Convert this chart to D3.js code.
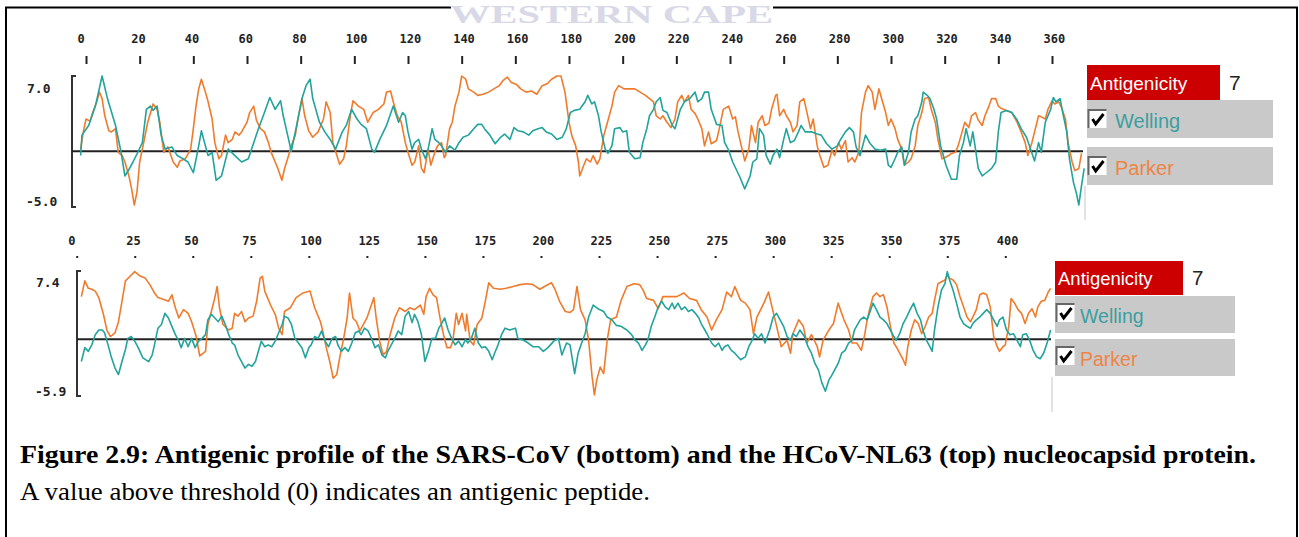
<!DOCTYPE html>
<html>
<head>
<meta charset="utf-8">
<script src="https://cdn.jsdelivr.net/npm/d3@7"></script>
<style>
  body { margin: 0; background: #fff; }
  .tick text { font-family: "DejaVu Sans Mono", monospace; font-size: 12px; font-weight: bold; fill: #222; }
</style>
</head>
<body>
<svg id="fig" width="1299" height="537"></svg>
<script>

// ---- data: [residue, score] ----
// HCoV-NL63 nucleocapsid (top panel)
var nl63Welling = [
	[-2,-0.4],[-1.5,1.5],[1,2.4],[3.5,4.2],[6,7.0],[8,4.9],[11,2.4],[13,0],[14.5,-2.3],[16,-1.7],[17.5,-1.0],[19.5,0],
	[21,0.8],[22.5,3.9],[24,4.2],[25,3.8],[26.5,4.2],[28,1.5],[29.5,0.2],[32,0.4],[34,-0.4],[35.5,-0.6],[38,-1.0],[40,-2.0],
	[42,0.5],[43,1.9],[44.5,0.5],[45.5,-0.4],[47,-0.1],[48.5,-2.7],[50.5,-2.3],[53,0.2],[55.5,-0.4],[58,-1.0],[60.5,-0.7],
	[62.5,0.8],[64,1.9],[66.5,3.6],[68.5,5.0],[70.5,3.9],[72.5,4.7],[73.5,3.3],[75.5,1.1],[76.5,0],[78.5,2.4],[80.5,4.9],
	[82,6.1],[83.5,6.7],[84.5,4.9],[87,2.7],[89,1.8],[91,1.1],[93,0.2],[95.5,1.8],[97,2.4],[99,3.9],[101,3.0],[102.5,2.5],
	[104.5,2.1],[106.5,0.2],[107.5,-0.1],[109.5,1.1],[112,2.4],[114.5,4.2],[116.5,2.7],[118,3.6],
	[119,3.3],[120,1.8],[121.5,0.2],[122.5,0.8],[124,1.1],[125,0.2],[126.5,-0.7],[127.5,0.2],[129,2.1],[130,1.1],[131.5,0.8],
	[132.5,0.5],[134,-0.1],[135.5,0.5],[137.5,0.1],[139,0.8],[140.5,1.3],[142.5,1.5],[144.5,2.1],[146,2.5],[147.5,2.5],
	[148.5,2.1],[150.5,1.5],[152.5,0.7],[154.5,1.3],[156,1.6],[158,1.1],[159.5,2.2],[161,1.9],[163,1.8],[165,1.5],[166.5,1.9],
	[168.5,2.1],[170,2.2],[171.5,1.8],[173.5,1.6],[175.5,1.1],[177.5,1.3],[179,2.1],[180.5,3.6],[182,3.8],[184,3.9],[186,4.6],
	[187,5.2],[188.5,4.4],[189.5,4.6],[191,3.3],[192,1.8],[193.5,0.2],[194.5,-0.2],[196,0.5],[197,2.1],[199,2.2],[200,1.8],
	[201.5,1.9],[202.5,-0.1],[204.5,-0.7],[206.5,-0.6],[207.5,0.8],[209,2.1],[210,3.3],[211.5,3.9],[212.5,4.6],[214,5.0],
	[215,3.8],[216.5,3.6],[218.5,2.4],[219.5,2.1],[221.5,3.9],[223,4.6],[225,4.9],[227,5.5],[228,4.6],[229.5,4.9],[230.5,5.5],
	[232,5.5],[233,3.9],[235,2.5],[237,2.4],[238,0.8],[239.5,0.1],[241,-1.0],
	[243.5,-2.3],[245.5,-3.5],[247.5,-2.3],[248.5,-1.0],[250,-0.7],[251,2.1],[252.5,1.5],[253.5,-0.4],[255,-1.2],[256,-0.4],
	[257.5,0.2],[258.5,-0.6],[260,1.1],[261,2.1],[262.5,0.8],[264,1.0],[265.5,1.8],[266.5,2.4],[268,1.8],[269,1.8],[270.5,1.8],
	[272.5,1.6],[274,1.5],[276,0.7],[278,0.2],[280,0.5],[281,1.0],[283,1.8],[284.5,2.2],[286,1.8],[287,0.4],[288.5,-0.4],
	[290.5,1.5],[292,0.8],[294,0.2],[296,0.1],[298,0.2],[299,-1.3],[300,-1.5],[301.5,-0.7],[302.5,-0.1],[304,0.4],[305,-1.3],
	[306.5,-0.1],[307.5,1.8],[309,3.0],[310,3.3],[311.5,4.6],[312,5.5],[313.5,5.2],[314.5,4.9],[316,3.9],[317,3.0],[318.5,0.5],
	[319.5,-0.4],[320.5,-1.3],[322.5,-2.6],[324.5,-2.6],[325.5,-0.4],[327,0.8],[328,2.1],[329.5,0.5],[330.5,1.8],[331.5,0.2],
	[332.5,-1.6],[334,-2.3],[335.5,-2.0],[337.5,-1.6],[339,-1.0],[340,1.8],[341,3.6],[343,3.8],[345,3.6],[347,2.9],[348.5,2.1],
	[350.5,1.3],[352,0.2],[353.5,-0.9],[355,0.8],[356,-0.1],[357.5,2.7],[359.5,3.9],[360.5,5.0],[361.5,4.6],[363,4.9],[364,3.6],
	[365.5,1.8],[366.5,-0.7],[368,-2.9],[369,-3.8],[370,-5.0],[371,-3.2],[372,-1.6]
];
var nl63Parker = [
	[-2,0.2],[-1,1.8],[0,3.0],[1.5,2.8],[2.5,3.6],[4,4.6],[5,5.5],[6,4.9],[7,3.3],[8.5,1.9],[9.5,1.8],[11,2.1],[12,-0.1],
	[13.5,-0.4],[14.5,-1.0],[16,-2.3],[17,-3.5],[18,-5.0],[19,-3.8],[20,-1.0],[21.5,0.8],[23,2.7],[25,4.4],[26.5,3.9],[27.5,2.7],
	[29,-0.1],[30.5,0.4],[32.5,-1.0],[34,-1.5],[35,-0.9],[37,-0.7],[39,0.2],[40,2.1],[41,4.2],[42,5.8],[43,6.7],[44.5,5.5],
	[45.5,4.6],[47,3.0],[48,0.8],[49.5,-0.7],[50.5,-0.4],[52,1.5],[53,0.8],[54.5,1.1],[55.5,1.8],[57,1.5],[58,1.8],[60,2.7],
	[61,3.6],[62.5,4.2],[63.5,2.9],[65,2.1],[66.5,1.8],[68,0.8],[69,-0.1],[70.5,-1.0],[71.5,-1.6],[73,-2.7],[74,-1.6],[75.5,-0.4],
	[76.5,0.5],[78,1.5],[79,3.0],[80.5,4.9],[81.5,3.3],[83,1.9],[84.5,1.3],[86.5,1.8],[88.5,3.0],[89.5,4.6],[91,3.6],[92,0.8],
	[93.5,-0.4],[94.5,-1.2],[96,-0.7],[97,0.5],[98.5,3.3],[99.5,4.7],[101.5,4.2],[103.5,3.9],[105,2.7],[107,3.6],[109,3.9],
	[111,4.4],[112,5.5],[113.5,5.6],[114.5,4.6],[116,3.3],[117.5,2.7],
	[119,0.8],[120,-0.1],[121.5,-1.3],[122.5,-1.0],[124,0.5],[125,-1.6],[126,-2.0],[127.5,0.2],[128.5,-1.3],[130,-0.1],[131,0.5],
	[132.5,0.8],[133.5,-0.6],[134,-0.4],[135.5,2.1],[136.5,2.7],[137.5,4.2],[139,5.5],[140,7.0],[141.5,6.7],[142.5,5.8],
	[144.5,5.5],[146,5.2],[148,5.3],[150,5.5],[152,5.8],[154,6.1],[155.5,6.6],[157,6.9],[158.5,6.4],[160.5,6.2],[162,5.8],
	[164,5.5],[166,5.6],[168,5.3],[170,6.1],[172,6.3],[173.5,6.7],[175.5,7.0],[177,7.0],[178.5,5.5],[180,2.7],[181,1.5],
	[182.5,0.5],[183.5,-1.0],[184,-2.3],[185.5,-1.3],[186.5,-0.7],[188,-1.0],[189,-0.4],[190.5,-1.2],[191.5,-0.7],[193,1.5],
	[194,2.4],[196,4.2],[197,5.5],[198.5,6.1],[200.5,5.8],[202,5.8],[204.5,5.8],[206.5,5.5],[208.5,5.2],[210,4.9],[211.5,4.6],
	[212.5,3.3],[214,3.0],[215,3.3],[216.5,2.7],[218,2.2],[219.5,3.0],[220.5,4.6],[222,5.2],[223,4.6],[224.5,5.2],[225.5,3.9],
	[227,3.5],[228,3.0],[229.5,2.1],[230.5,0.5],[232,1.8],[233,0.7],[235,1.0],[236,2.1],[237.5,3.9],[239.5,4.2],[241,3.0],
	[242,3.2],[243,1.8],[244.5,0.2],[245.5,-0.9],[247,0.2],[248,2.4],[249.5,0.8],[250.5,2.7],[252,3.3],[253,2.4],[254.5,2.6],
	[255.5,3.9],[257,5.2],[257.5,5.3],[258.5,3.3],[260,3.9],[261,3.3],[262.5,2.7],[263.5,1.8],[265,2.4],[266,4.6],[267.5,4.9],
	[268.5,3.8],[270,2.1],[271,3.0],[272.5,0.5],[273.5,-0.4],[275,-1.5],[276.5,-1.3],[278,0.1],[279,-0.4],[280.5,0.8],
	[281.5,0.2],[283,1.0],[284,-1.0],[285.5,-0.6],[286.5,-1.0],[288,-0.1],[289,3.6],[290.5,5.5],[291.5,6.1],[293,5.5],[294,3.9],
	[295.5,5.8],[296.5,4.9],[298,3.6],[299,2.4],[300,3.0],[301.5,2.1],[302.5,1.1],[304,0.2],[305,-1.3],[306.5,-1.0],[307.5,-0.7],
	[309,0.5],[310,2.4],[311.5,3.6],[312.5,4.9],[314,5.0],[315,3.9],[316.5,2.7],[317.5,1.1],[319,-0.7],[320,-0.6],[321.5,-0.4],
	[322.5,-0.2],[324,-0.1],[325,0.5],[326.5,1.8],[327.5,2.7],[329,2.2],[330,3.3],[331.5,3.6],[332.5,2.9],[334,2.4],[335,3.3],
	[336.5,4.2],[337.5,4.9],[339,4.9],[340,4.2],[341,4.0],[343,3.8],[345,3.6],[347,2.7],[348.5,1.8],[350,0.8],[351,-0.4],
	[352.5,0.8],[353.5,1.8],[355,3.3],[356,3.2],[357.5,3.0],[358.5,3.9],[360,4.7],[361,4.4],[362.5,4.6],[363.5,4.1],[365,3.0],
	[366,0.8],[367.5,-1.0],[368.5,-1.8],[370,-1.6],[371,-0.2]
];

// SARS-CoV nucleocapsid (bottom panel)
var sarsWelling = [
	[2,-2.4],[3.5,-0.9],[5,-1.3],[6.5,-0.6],[8,0.5],[9.5,1.0],[11,1.0],[12,0.7],[13.5,-0.6],[15,-2.0],[16.5,-3.1],[18,-3.8],
	[19.5,-2.4],[21,-1.1],[22,0.1],[23.5,0.3],[25,-0.2],[26.5,-0.9],[28.5,-2.0],[31,-2.4],[32.5,-1.7],[33.5,-0.6],[35,1.2],
	[36.5,1.6],[38,2.8],[39.5,2.3],[41,1.4],[42.5,0.5],[44,-0.2],[45,-0.9],[46.5,0.1],[48,-0.8],[49.5,0.1],[51,-0.9],[52.5,-0.2],
	[54,0.1],[55.5,0.5],[56.5,2.1],[58,2.7],[59.5,2.3],[61,1.9],[62.5,2.5],[64,1.6],[65.5,0.5],[67,-0.4],[68,-0.6],[69.5,-1.7],
	[71,-2.4],[72.5,-3.1],[74,-2.7],[75.5,-2.9],[77,-2.4],[78,-1.5],[79.5,-0.2],[81,-0.8],[82.5,-0.6],[84,-0.8],[85.5,-0.2],
	[87,0.7],[88.5,1.6],[89.5,2.5],[91,2.3],[92.5,1.6],[94,0.1],[95.5,-0.4],[97,-0.9],[98.5,-2.0],[100,-0.9],[101,-0.6],
	[102.5,0.3],[104,0.1],[105.5,0.9],[107,-0.2],[108.5,-0.8],[110,0.1],[111.5,0.3],[112.5,-0.6],[114,-1.3],[115.5,-0.9],
	[117,-1.3],[118.5,-0.4],[120,0.7],[121.5,0.9],[122.5,0.5],[124,1.2],[125.5,0.9],[127,0.1],[128.5,-0.9],[130,-0.6],
	[131.5,-1.7],[133,-2.0],[134,-1.3],[135.5,-0.6],[137,0.1],[138.5,0.9],[140,0.5],[141.5,2.5],[143,3.0],[144.5,1.8],
	[145.5,2.7],[147,1.9],[148.5,0.5],[150,-2.4],[151.5,-1.3],[153,0.1],[154.5,0.1],[156,1.2],[157,1.6],[158.5,2.3],[160,1.0],
	[161.5,0.1],[163,-0.6],[164.5,-0.2],[166,-0.8],[167.5,0.0],[168.5,-0.4],[170,0.1],[171.5,1.2],[173,-0.4],[174.5,-0.9],
	[176,-0.8],[177.5,-1.3],[179,-2.2],[180,-1.5],[181.5,-0.6],[183,0.5],[184.5,1.2],[186.5,1.0],[189,1.2],[190,0.1],
	[192.5,-0.1],[194.5,-0.4],[196.5,-0.8],[199,-0.8],[201,-1.3],[203,-0.9],[205.5,-0.2],[207.5,0.1],[209,-1.7],[211,-0.4],
	[212.5,-0.6],[214.5,-3.7],[216,-1.5],[217.5,-0.4],[219,0.6],[220.5,2.4],[222.5,3.7],[224.5,3.3],[227,3.0],[228.5,2.4],
	[230.5,2.1],[232.5,1.5],[234.5,1.4],[237,1.0],[239,0.5],[240.5,-0.1],[242,-0.4],[243.5,-1.2],[245,-0.6],[246,-0.1],
	[247.5,1.4],[249,2.4],[250.5,3.5],[252,4.1],[253.5,3.5],[255,3.2],[256.5,3.9],[257.5,3.3],[259,3.9],[260.5,3.2],[262,3.5],
	[263.5,3.0],[265,3.2],[266.5,2.8],[268,2.3],[269,1.7],[271.5,0.6],[273.5,-0.4],[275,-0.8],[276.5,-0.4],[278,-1.2],
	[279,-0.8],[280.5,-0.6],[282,-1.2],[283.5,-1.5],[286,-2.2],[288,-1.9],[289.5,-0.8],[291,-0.1],[292,0.6],[293.5,0.1],
	[295,0.6],[296.5,-0.4],[298.5,1.0],[300,2.4],[301.5,2.8],[303,2.1],[304.5,1.4],[306,0.3],[307.5,-0.1],[308.5,0.6],[310,0.3],
	[311.5,1.0],[313.5,0.3],[315,-0.8],[316.5,-1.5],[318,-2.6],[319.5,-3.3],[321,-4.7],[322.5,-5.6],[324,-4.4],[325,-4.0],
	[326.5,-3.3],[328,-2.6],[329.5,-1.5],[331,-1.2],[332.5,-0.4],[334,-0.1],[335,1.0],[337.5,2.1],
	[339,2.4],[340.5,2.1],[341.5,2.8],[343,3.9],[344.5,3.2],[346,2.4],[347.5,2.1],[349,1.7],[350.5,1.0],[352,0.3],[353,-0.1],
	[354.5,0.6],[356,1.7],[357.5,2.4],[359,3.2],[360.5,3.9],[362,2.8],[363.5,2.1],[364.5,1.0],[366,-0.1],[367.5,-0.8],
	[368.5,-1.3],[369.5,1.0],[371,3.5],[372.5,5.3],[374,6.0],[375,7.3],[376,6.4],[377.5,5.3],[379,3.9],[380.5,2.4],[382,1.7],
	[383.5,1.4],[385,1.2],[386,1.7],[387.5,2.1],[389,2.4],[390.5,2.8],[392,3.2],[393.5,2.8],[395,2.1],[396.5,1.4],[397.5,2.1],
	[399,2.4],[400.5,1.0],[402,0.5],[403.5,0.6],[405,-0.1],[406.5,-0.8],[407.5,0.5],[409,0.6],[410.5,-0.1],[412,-1.2],
	[413.5,-1.9],[415,-2.1],[416.5,-1.5],[418,-0.4],[419.5,1.0]
];
var sarsParker = [
	[2,4.6],[3.5,6.3],[5,5.5],[6.5,5.4],[8,5.2],[9.5,4.5],[11.5,2.7],[13,1.0],[14.5,0.3],[16.5,0.7],[18,1.9],[19.5,4.1],
	[21,6.3],[23,6.8],[25,7.3],[27.5,6.8],[29.5,6.6],[31.5,5.9],[33.5,5.0],[35,4.5],[37.5,4.3],[39.5,4.1],[41,4.8],[42.5,3.4],
	[44,2.3],[46,3.2],[48,2.8],[49.5,1.9],[51.5,0.3],[53,-1.8],[55.5,-1.3],[56.5,1.6],[58,3.0],[59.5,4.5],[60.5,5.7],[61.5,3.4],
	[63,1.6],[65.5,1.0],[67,1.2],[68,2.8],[69.5,2.5],[71,3.0],[72.5,1.9],[74,2.3],[76,2.5],[77.5,4.1],[79,6.6],[80,6.8],
	[81,5.2],[83.5,3.7],[85.5,2.7],[87,1.2],[88.5,0.5],[89.5,3.0],[92,3.4],[94.5,4.5],[97.5,5.0],[100.5,5.2],[102.5,3.4],
	[105,1.9],[106,0.9],[107.5,-0.9],[109,-2.4],[110.5,-4.2],[112,-3.8],[113.5,-1.7],[115,0.1],[116.5,2.3],[117.5,5.0],
	[119,2.3],[120.5,1.9],[122,0.9],[123.5,1.6],[125,2.3],[126.5,3.4],[128,4.5],[129,2.3],[130.5,-0.2],[132,-1.7],[133.5,-1.3],
	[135,0.5],[137,2.3],[139,3.4],[141.5,3.0],[143.5,3.4],[145.5,3.2],[148,3.7],[149.5,2.7],[150.5,4.6],[152,5.5],[153.5,4.8],
	[155,4.5],[156.5,2.3],[158,0.5],[159.5,-0.9],[161,-0.9],[162,-0.2],[163.5,2.8],[164.5,1.6],[166,2.8],[167.5,0.9],[168,2.7],
	[169.5,-0.2],[171,-0.6],[172.5,1.6],[174.5,2.3],[176,4.1],[177.5,6.1],[179.5,5.5],[182.5,5.4],[185,5.5],[188,5.7],
	[191,5.9],[194,6.0],[196.5,5.9],[199.5,5.4],[201.5,5.7],[204.5,6.1],[206,5.4],[208,4.1],[210.5,3.0],[212.5,2.9],
	[214,3.2],[215.5,5.7],[217,3.2],[219,2.1],[220.5,-0.1],[222,-4.0],[223,-6.0],[224,-4.4],[225.5,-3.0],[227,-3.7],
	[228.5,-0.1],[230,2.1],[232.5,2.4],[234.5,4.2],[237,5.7],[240,6.0],[242.5,5.9],[244,5.3],[245.5,4.4],[248.5,4.2],
	[250.5,3.3],[252.5,4.6],[255.5,4.6],[258.5,4.6],[261.5,5.0],[264,4.4],[267,4.2],[269,3.2],[271.5,2.4],[273.5,1.0],
	[275.5,2.1],[278,3.2],[280,5.1],[282,4.6],[283.5,5.7],[286,4.2],[288,3.9],[290,3.2],[291.5,0.6],[293,2.4],[296,3.9],
	[298,5.1],[299.5,3.5],[301.5,1.4],[303.5,-0.8],[306,-0.1],[307.5,-1.5],[308.5,0.6],[311,2.1],[313,1.4],[314.5,-0.4],
	[316.5,0.5],[319,-0.8],[320,-1.9],[321.5,-0.1],[324,1.0],[326,1.7],[328,3.9],[330.5,2.1],[332.5,1.0],[334,-0.4],
	[336,-0.4],[338,-1.2],[339.5,0.6],[340.5,2.1],[341.5,3.2],[343,4.6],[344.5,5.0],[346,4.6],[347.5,4.8],[349,3.5],
	[350.5,1.4],[352,-0.4],[353,-0.8],[354.5,-1.5],[356,-2.2],[357,-2.8],[358,-0.8],[359.5,1.0],[361,2.1],[362.5,1.7],
	[364,0.6],[365.5,1.4],[367,2.4],[368.5,2.8],[369.5,4.2],[371,6.0],[372.5,6.2],[374,6.4],[375,6.9],[376,6.6],[377.5,6.4],
	[379,5.9],[380.5,4.6],[382,3.5],[383.5,2.4],[385,1.9],[386,2.4],[387.5,3.2],[389,4.8],[390.5,5.0],[392,4.8],[393.5,3.5],
	[395,0.3],[396.5,-0.8],[397.5,-1.3],[399,-0.8],[400,-0.6],[400.5,0.1],[401.5,1.4],[402.5,4.4],[404,3.9],[405.5,3.2],
	[407,2.8],[408.5,1.7],[410,2.8],[411.5,3.3],[413,2.4],[414,3.5],[415.5,4.1],[417,4.2],[418.5,5.1],[419.5,5.5]
];

// axes / labels
var topTicks = [0,20,40,60,80,100,120,140,160,180,200,220,240,260,280,300,320,340,360];
var bottomTicks = [0,25,50,75,100,125,150,175,200,225,250,275,300,325,350,375,400];
var topYDomain = [-5, 7], topYLabels = ["7.0", "-5.0"];
var bottomYDomain = [-5.9, 7.4], bottomYLabels = ["7.4", "-5.9"];
var legendNames = ["Welling", "Parker"];
var legendTitle = "Antigenicity", windowSize = "7";
var captionBold = "Figure 2.9: Antigenic profile of the SARS-CoV (bottom) and the HCoV-NL63 (top) nucleocapsid protein.";
var captionText = "A value above threshold (0) indicates an antigenic peptide.";

var colors = {Welling: "#22a39c", Parker: "#f07b2c"};
var textColors = {Welling: "#3c9f9f", Parker: "#ef8445"};

var svg = d3.select("#fig");

// page frame
svg.append("rect").attr("x", 6).attr("y", 7.5).attr("width", 1291).attr("height", 545)
	.attr("fill", "none").attr("stroke", "#000").attr("stroke-width", 2);

// watermark over the frame
svg.append("rect").attr("x", 451).attr("y", 0).attr("width", 322).attr("height", 14).attr("fill", "#fff");
svg.append("text").attr("x", 450).attr("y", 23)
	.attr("textLength", 323).attr("lengthAdjust", "spacingAndGlyphs")
	.style("font-family", "'Liberation Serif', serif").style("font-weight", "bold")
	.style("font-size", "25px").style("fill", "#d8d8e6")
	.text("WESTERN CAPE");

function drawPanel(p){
	var x = d3.scaleLinear().domain(p.xDomain).range([p.x0, p.x1]);
	var y = d3.scaleLinear().domain(p.yDomain).range([p.yBottom, p.yTop]);
	var g = svg.append("g");

	// residue axis on top
	var ax = g.append("g").attr("transform", "translate(0," + p.tickY + ")")
		.call(d3.axisTop(x).tickValues(p.ticks).tickSize(p.tickSize).tickPadding(p.tickPad));
	ax.select(".domain").remove();
	ax.selectAll(".tick line").attr("stroke", "#222").attr("stroke-width", p.tickW);
	ax.selectAll(".tick text").attr("text-anchor", "start").attr("x", -9);

	// bracket style y axis
	g.append("path")
		.attr("d", "M" + (p.axisX + 4) + "," + p.bracketTop + "H" + p.axisX + "V" + p.bracketBottom + "H" + (p.axisX + 4))
		.attr("fill", "none").attr("stroke", "#333").attr("stroke-width", 2);
	g.selectAll(".ylab").data(p.yLabels).enter().append("text")
		.attr("class", "ylab")
		.attr("x", function(d, i){ return p.yLabelX[i]; })
		.attr("y", function(d, i){ return p.yLabelY[i]; })
		.style("font-family", "'DejaVu Sans Mono', monospace").style("font-size", "13px")
		.style("font-weight", "bold").style("fill", "#222")
		.text(function(d){ return d; });

	// threshold line
	g.append("line").attr("x1", p.axisX).attr("x2", p.zeroEnd).attr("y1", y(0)).attr("y2", y(0))
		.attr("stroke", "#222").attr("stroke-width", 2);

	var line = d3.line().x(function(d){ return x(d[0]); }).y(function(d){ return y(d[1]); });
	// Parker drawn first, Welling on top of it
	[["Parker", p.parker], ["Welling", p.welling]].forEach(function(s){
		g.append("path").datum(s[1]).attr("d", line)
			.attr("fill", "none").attr("stroke", colors[s[0]])
			.attr("stroke-width", 1.6).attr("stroke-linejoin", "round");
	});

	// faint panel separator
	g.append("line").attr("x1", p.sepX).attr("x2", p.sepX).attr("y1", p.sepTop).attr("y2", p.sepBottom)
		.attr("stroke", "#e2e2e2").attr("stroke-width", 2);

	drawLegend(g, p.legend);
}

function drawLegend(g, L){
	g.append("rect").attr("x", L.x).attr("y", L.y).attr("width", L.titleW).attr("height", L.titleH).attr("fill", "#cc0000");
	g.append("text").attr("x", L.x + 3).attr("y", L.y + L.titleH - 10)
		.style("font-family", "'Liberation Sans', Arial, sans-serif").style("font-size", L.font + "px")
		.style("fill", "#fff").text(legendTitle);
	g.append("text").attr("x", L.x + L.titleW + 9).attr("y", L.y + L.titleH - 10)
		.style("font-family", "'Liberation Sans', Arial, sans-serif").style("font-size", (L.font + 2) + "px")
		.style("fill", "#222").text(windowSize);

	legendNames.forEach(function(name, i){
		var ry = L.rowY[i];
		g.append("rect").attr("x", L.x).attr("y", ry).attr("width", L.rowW).attr("height", L.rowH).attr("fill", "#c9c9c9");
		var bx = L.x + 1.5, by = ry + L.boxOff;
		g.append("rect").attr("x", bx).attr("y", by).attr("width", L.box).attr("height", L.box).attr("fill", "#fff");
		g.append("path").attr("d", "M" + bx + "," + (by + L.box) + "V" + by + "H" + (bx + L.box))
			.attr("fill", "none").attr("stroke", "#666").attr("stroke-width", 2);
		g.append("path")
			.attr("d", "M" + (bx + 4) + "," + (by + L.box * 0.5) + "L" + (bx + L.box * 0.4) + "," + (by + L.box - 4) + "L" + (bx + L.box - 3) + "," + (by + 4))
			.attr("fill", "none").attr("stroke", "#000").attr("stroke-width", 3);
		g.append("text").attr("x", L.x + L.textOff).attr("y", ry + L.rowH - 10)
			.style("font-family", "'Liberation Sans', Arial, sans-serif").style("font-size", (L.font + 1) + "px")
			.style("fill", textColors[name]).text(name);
	});
}

drawPanel({
	xDomain: [0, 360], x0: 86, x1: 1052,
	yDomain: topYDomain, yTop: 76, yBottom: 205,
	ticks: topTicks, tickY: 64, tickSize: 8, tickPad: 13, tickW: 2,
	axisX: 72, bracketTop: 76, bracketBottom: 207,
	yLabels: topYLabels, yLabelX: [27, 26], yLabelY: [93, 206],
	zeroEnd: 1083, welling: nl63Welling, parker: nl63Parker,
	sepX: 1085, sepTop: 186, sepBottom: 220,
	legend: {x: 1087, y: 65, titleW: 133, titleH: 35, rowW: 186, rowH: 38, rowY: [100, 147],
		box: 18, boxOff: 10, textOff: 28, font: 19}
});

drawPanel({
	xDomain: [0, 400], x0: 76.7, x1: 1005.3,
	yDomain: bottomYDomain, yTop: 270.7, yBottom: 394,
	ticks: bottomTicks, tickY: 258, tickSize: 2, tickPad: 11, tickW: 2,
	axisX: 77, bracketTop: 271, bracketBottom: 396,
	yLabels: bottomYLabels, yLabelX: [36, 35], yLabelY: [287, 396],
	zeroEnd: 1051, welling: sarsWelling, parker: sarsParker,
	sepX: 1052, sepTop: 377, sepBottom: 412,
	legend: {x: 1055, y: 261, titleW: 128, titleH: 34, rowW: 180, rowH: 37, rowY: [296, 339],
		box: 18, boxOff: 8, textOff: 25, font: 18.5}
});

// caption
svg.append("text").attr("x", 20).attr("y", 463)
	.attr("textLength", 1236).attr("lengthAdjust", "spacingAndGlyphs")
	.style("font-family", "'Liberation Serif', 'Times New Roman', serif").style("font-weight", "bold")
	.style("font-size", "26px").style("fill", "#000").text(captionBold);
svg.append("text").attr("x", 20).attr("y", 500)
	.attr("textLength", 630).attr("lengthAdjust", "spacingAndGlyphs")
	.style("font-family", "'Liberation Serif', 'Times New Roman', serif")
	.style("font-size", "26px").style("fill", "#000").text(captionText);

</script>
</body>
</html>
